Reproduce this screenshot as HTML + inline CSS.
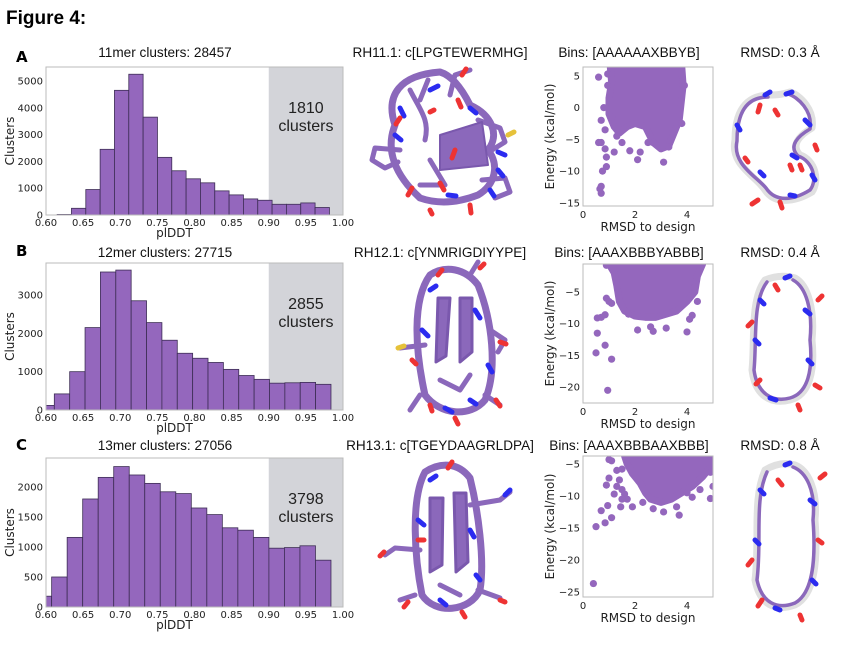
<!DOCTYPE html>
<html><head><meta charset="utf-8"><style>
body{margin:0;background:#fff;}
svg text{font-family:"DejaVu Sans","Liberation Sans",sans-serif;}
.t{font-family:"Liberation Sans",sans-serif;font-size:13.6px;fill:#111;}
.tk{font-size:10px;fill:#222;}
.al{font-size:12px;fill:#222;}
</style></head><body>
<svg id="fig" width="856" height="645" viewBox="0 0 856 645" xmlns="http://www.w3.org/2000/svg">
<text x="6" y="24" style="font-family:'Liberation Sans',sans-serif;font-weight:bold;font-size:19px">Figure 4:</text>
<g style="font-family:'Liberation Sans',sans-serif;font-weight:bold;font-size:15px">
<text x="16" y="62">A</text>
<text x="16" y="256">B</text>
<text x="16" y="450">C</text>
</g>
<g class="t" text-anchor="middle">
<text x="165" y="57" class="t">11mer clusters: 28457</text>
<text x="165" y="257" class="t">12mer clusters: 27715</text>
<text x="165" y="450" class="t">13mer clusters: 27056</text>
<text x="440" y="57" class="t">RH11.1: c[LPGTEWERMHG]</text>
<text x="440" y="257" class="t">RH12.1: c[YNMRIGDIYYPE]</text>
<text x="440" y="450" class="t">RH13.1: c[TGEYDAAGRLDPA]</text>
<text x="629" y="57" class="t">Bins: [AAAAAAXBBYB]</text>
<text x="629" y="257" class="t">Bins: [AAAXBBBYABBB]</text>
<text x="629" y="450" class="t">Bins: [AAAXBBBAAXBBB]</text>
<text x="780" y="57" class="t">RMSD: 0.3 Å</text>
<text x="780" y="257" class="t">RMSD: 0.4 Å</text>
<text x="780" y="450" class="t">RMSD: 0.8 Å</text>
</g>
<g id="mols" fill="none" stroke-linecap="round" stroke-linejoin="round">
<g>
<path d="M440,72 C400,75 385,95 395,125 C385,150 395,175 420,198 C440,205 460,202 478,195 C495,185 500,165 488,150 C500,135 492,115 470,105 C460,85 450,75 440,72" stroke="#8b68bb" stroke-width="7"/>
<path d="M410,90 C420,110 430,120 425,140 M400,150 L375,148 L372,160 L385,168 L398,162 M478,120 L500,128 L505,142 L492,150 M482,180 L505,178 L510,192 L495,198 M450,95 L455,75 L470,70 M420,100 L428,80 M430,160 L445,185 L420,185" stroke="#8b68bb" stroke-width="5"/>
<path d="M440,135 L482,122 L488,165 L440,170 Z" fill="#8b68bb" stroke="#7a58ad" stroke-width="2"/>
<path d="M430,90 L438,86 M470,108 L476,113 M400,108 L404,116 M395,135 L401,140 M448,195 L456,196 M498,152 L505,155 M490,190 L494,196 M498,170 L503,176" stroke="#2b2bf0" stroke-width="5"/>
<path d="M462,75 L466,69 M400,118 L396,124 M458,100 L461,107 M470,205 L471,213 M430,210 L432,214 M412,188 L408,195 M455,150 L452,158 M430,112 L434,110 M440,183 L444,190" stroke="#ee3333" stroke-width="5"/>
<path d="M508,135 L514,132" stroke="#e6c23a" stroke-width="5"/>
</g>
<g>
<path d="M430,275 C412,300 415,350 425,395 C440,415 470,418 485,400 C498,370 492,320 478,285 C465,268 445,265 430,275" stroke="#8b68bb" stroke-width="7"/>
<path d="M438,298 L436,362 L446,356 L450,298 Z M460,298 L460,362 L472,352 L472,298 Z" fill="#8b68bb" stroke="#7a58ad" stroke-width="3"/>
<path d="M425,345 L400,348 M490,330 L505,340 L498,352 M470,275 L478,262 M485,395 L500,405 M420,395 L410,410 M440,380 L460,390 L470,375" stroke="#8b68bb" stroke-width="5"/>
<path d="M430,290 L436,286 M475,310 L480,318 M422,330 L428,336 M488,365 L492,372 M445,408 L452,412 M470,400 L476,404" stroke="#2b2bf0" stroke-width="5"/>
<path d="M438,275 L442,270 M480,268 L484,264 M412,360 L416,364 M455,418 L458,424 M496,400 L500,406 M430,405 L432,411 M500,342 L506,344" stroke="#ee3333" stroke-width="5"/>
<path d="M398,348 L404,346" stroke="#e6c23a" stroke-width="5"/>
</g>
<g>
<path d="M425,472 C410,500 415,560 422,595 C435,615 470,612 480,590 C485,560 478,510 470,478 C458,462 440,462 425,472" stroke="#8b68bb" stroke-width="7"/>
<path d="M430,498 L430,572 L442,565 L443,498 Z M454,493 L456,572 L468,562 L466,493 Z" fill="#8b68bb" stroke="#7a58ad" stroke-width="3"/>
<path d="M420,550 L395,548 L385,555 M470,505 L500,500 L510,492 M478,590 L500,598 M415,595 L400,600 M440,585 L460,595" stroke="#8b68bb" stroke-width="5"/>
<path d="M430,480 L436,476 M470,530 L474,537 M418,520 L424,525 M440,600 L446,605 M476,575 L480,580 M505,495 L510,490" stroke="#2b2bf0" stroke-width="5"/>
<path d="M448,468 L452,462 M384,552 L380,556 M462,612 L465,617 M500,600 L505,602 M408,602 L404,607 M424,540 L418,540" stroke="#ee3333" stroke-width="5"/>
</g>
<g>
<path d="M770,95 C740,95 735,120 735,140 C730,165 755,175 765,190 C775,205 795,202 812,192 C820,180 815,160 800,155 C790,145 800,135 812,128 C815,110 800,95 790,92 C780,95 775,95 770,95" stroke="#e0e0e0" stroke-width="7"/>
<path d="M768,97 C742,97 737,120 737,141 C732,164 756,176 766,188 C776,203 794,200 810,190 C818,180 813,161 798,156 C788,146 798,136 810,129 C813,111 798,97 788,94" stroke="#8b68bb" stroke-width="3.5"/>
<path d="M765,95 L770,92 M737,125 L740,130 M760,172 L764,176 M790,195 L795,196 M812,175 L815,180 M792,155 L797,158 M805,120 L810,125 M786,94 L792,92" stroke="#2b2bf0" stroke-width="5"/>
<path d="M760,105 L758,112 M775,110 L778,115 M745,158 L748,162 M780,202 L782,208 M758,200 L752,204 M790,165 L792,170 M800,165 L802,170 M815,145 L817,150" stroke="#ee3333" stroke-width="5"/>
</g>
<g>
<path d="M765,280 C750,300 755,340 752,370 C755,395 770,405 790,400 C810,395 815,370 812,340 C815,310 808,285 795,278 C785,275 775,276 765,280" stroke="#e0e0e0" stroke-width="7"/>
<path d="M767,282 C752,302 757,340 754,370 C757,393 772,403 790,398 C808,393 813,370 810,340 C813,310 806,287 793,280" stroke="#8b68bb" stroke-width="3.5"/>
<path d="M760,300 L764,304 M755,340 L759,344 M770,398 L776,400 M808,360 L812,364 M805,310 L810,314 M785,278 L790,276" stroke="#2b2bf0" stroke-width="5"/>
<path d="M775,285 L778,290 M752,322 L748,326 M760,380 L756,384 M798,405 L800,410 M815,385 L820,388 M818,300 L822,296" stroke="#ee3333" stroke-width="5"/>
</g>
<g>
<path d="M765,470 C752,500 760,540 755,580 C760,605 775,612 795,605 C815,595 818,560 815,520 C818,490 808,470 795,465 C785,462 775,464 765,470" stroke="#e0e0e0" stroke-width="7"/>
<path d="M767,472 C754,500 762,540 757,580 C762,603 777,610 795,603 C813,593 816,560 813,520 C816,490 806,472 793,467" stroke="#8b68bb" stroke-width="3.5"/>
<path d="M760,490 L764,494 M755,540 L759,544 M775,608 L780,610 M812,580 L816,584 M810,500 L815,504 M785,465 L790,463" stroke="#2b2bf0" stroke-width="5"/>
<path d="M778,480 L782,485 M752,560 L748,565 M762,600 L758,606 M800,615 L802,620 M818,540 L822,543 M820,478 L825,474" stroke="#ee3333" stroke-width="5"/>
</g>
</g>
<g id="plots"></g>
</svg>
<script>
// Histogram data (bin counts, bin start, bin width)
const histA_counts=[20,250,950,2450,4650,5250,3650,2150,1650,1350,1200,900,750,600,550,400,400,450,280];
const histA_start=0.615, histA_width=0.0193;
const histB_counts=[120,420,1000,2150,3600,3650,2850,2280,1820,1480,1350,1240,1060,900,800,700,710,720,670];
const histB_start=0.5905, histB_width=0.0207;
const histC_counts=[180,500,1160,1800,2160,2340,2200,2060,1920,1890,1650,1540,1320,1280,1160,980,990,1020,780];
const histC_start=0.5867, histC_width=0.0209;
const xTickLabels=["0.60","0.65","0.70","0.75","0.80","0.85","0.90","0.95","1.00"];
const yTicksA=[0,1000,2000,3000,4000,5000];
const yTicksB=[0,1000,2000,3000];
const yTicksC=[0,500,1000,1500,2000];
const highCounts=["1810","2855","3798"];
// Scatter data (RMSD, energy) outliers and dense-cloud outlines
const scA_rmsd=[0.6,0.95,0.95,0.8,0.7,0.85,0.7,0.6,0.85,0.9,1.2,0.9,0.75,0.7,0.65,0.7,2.1,1.8,2.2,3.1,2.5,2.7,3.3,1.5,1.1,1.3,3.9,3.8];
const scA_energy=[4.8,5.3,3.5,0,-2,-3.5,-5.5,-5.5,-6.5,-7.8,-7,-9.3,-10,-12.4,-12.8,-13.5,-8.2,-6.8,-7,-8.6,-5.5,-5.5,-6.2,-5.5,-1.5,-4.5,3.5,-2.5];
const cloudA_rmsd=[1.05,3.8,3.85,3.7,3.5,3.3,3.0,2.7,2.4,2.0,1.7,1.4,1.2,1.0,1.0,1.1];
const cloudA_energy=[6.4,6.4,3.5,-2,-4,-6,-6.5,-5.5,-3,-2.5,-3,-4,-3,-1,1.5,4];
const scB_rmsd=[0.5,0.55,0.55,0.7,0.85,0.9,1.0,1.1,0.85,1.1,0.95,2.1,2.6,2.7,3.2,4.0,4.2,4.4,4.3,1.75,0.9,4.1];
const scB_energy=[-14.6,-11.5,-9.1,-9,-8.6,-6,-6.5,-6.8,-13.4,-15.6,-20.5,-11,-10.5,-11.2,-10.7,-11.3,-8.7,-6.5,-4.2,-8.5,-0.8,-9.3];
const cloudB_rmsd=[1.0,4.6,4.4,4.3,4.0,3.6,3.2,2.8,2.4,2.0,1.6,1.4,1.3,1.2];
const cloudB_energy=[-0.6,-0.6,-2.5,-5,-6.5,-8,-8.5,-9,-9,-8.8,-8,-6.5,-4,-2];
const scC_rmsd=[0.4,0.5,0.7,0.85,1.1,0.95,1.2,0.9,1.0,1.0,1.1,1.3,1.5,1.4,1.5,1.6,1.7,1.45,1.9,2.3,2.7,3.1,3.7,3.6,4.2,4.9,4.9,5.0,4.5,4.0,1.3,1.5];
const scC_energy=[-23.7,-14.8,-12.3,-14.2,-13.4,-11.5,-9.7,-8.3,-7.2,-4.3,-4.5,-6,-5.8,-7.5,-9,-9.7,-10.5,-11.7,-11.7,-11,-12,-12.5,-13,-11.7,-10.2,-10.4,-6.3,-8.5,-9,-9.5,-8.5,-10.5];
const cloudC_rmsd=[1.6,5,5,4.6,4.2,3.8,3.4,3.0,2.6,2.4,2.2,1.9,1.7];
const cloudC_energy=[-3.75,-3.75,-5,-7,-8.5,-9.5,-10.5,-11,-10.5,-9.5,-8,-6.5,-5];
const sTicksA=[5,0,-5,-10,-15], sTicksB=[-5,-10,-15,-20], sTicksC=[-5,-10,-15,-20,-25];
const sxTicks=[0,2,4];

const NS="http://www.w3.org/2000/svg";
const root=document.getElementById('plots');
function mk(tag,attrs,parent){const e=document.createElementNS(NS,tag);for(const k in attrs)e.setAttribute(k,attrs[k]);(parent||root).appendChild(e);return e;}

function hist(key,counts,start,width,yTicks,ymax,top,bottom,hiTxt){
  const L=46,R=343;
  const xs=v=>L+(v-0.6)/0.4*(R-L);
  const ys=v=>bottom-v/ymax*(bottom-top);
  const g=mk('g',{});
  
  
  const clip=mk('clipPath',{id:'clip'+key},g);
  mk('rect',{x:L,y:top,width:R-L,height:bottom-top},clip);
  const shade=mk('rect',{x:xs(0.9),y:top,width:R-xs(0.9),height:bottom-top,fill:'#d3d4d9'},g);
  
  
  const bg=mk('g',{'clip-path':'url(#clip'+key+')'},g);
  counts.forEach((c,i)=>{
    const x0=xs(start+i*width),x1=xs(start+(i+1)*width);
    const b=mk('rect',{x:x0,y:ys(c),width:x1-x0,height:bottom-ys(c),fill:'#9467bd',stroke:'#3d2d55','stroke-width':0.8},bg);
    
    
  });
  mk('rect',{x:L,y:top,width:R-L,height:bottom-top,fill:'none',stroke:'#bbb','stroke-width':1},g);
  xTickLabels.forEach((t,i)=>{
    const tx=mk('text',{x:xs(0.6+i*0.05),y:bottom+11,class:'tk','text-anchor':'middle'},g);tx.textContent=t;
    
    
  });
  yTicks.forEach(t=>{
    const tx=mk('text',{x:L-3,y:ys(t)+3.5,class:'tk','text-anchor':'end'},g);tx.textContent=t;
    
    
  });
  const xl=mk('text',{x:(L+R)/2-20,y:bottom+22,class:'al','text-anchor':'middle'},g);xl.textContent='plDDT';
  
  
  const cy=(top+bottom)/2;
  const yl=mk('text',{x:14,y:cy,class:'al','text-anchor':'middle',transform:'rotate(-90 14 '+cy+')'},g);yl.textContent='Clusters';
  
  
  const tc=(xs(0.9)+R)/2;
  const a=mk('text',{x:tc,y:top+46,'text-anchor':'middle',style:"font-family:'Liberation Sans',sans-serif;font-size:16px;fill:#222"},g);a.textContent=hiTxt;
  
  
  const b=mk('text',{x:tc,y:top+64,'text-anchor':'middle',style:"font-family:'Liberation Sans',sans-serif;font-size:16px;fill:#222"},g);b.textContent='clusters';
  
  
}
hist('a',histA_counts,histA_start,histA_width,yTicksA,5520,67,215,highCounts[0]);
hist('b',histB_counts,histB_start,histB_width,yTicksB,3835,263,410,highCounts[1]);
hist('c',histC_counts,histC_start,histC_width,yTicksC,2483,458,607,highCounts[2]);

function scatter(key,rm,en,crm,cen,ticks,ymin,ymax,top,bottom){
  const L=583,R=713;
  const xs=v=>L+v/5*(R-L);
  const ys=v=>top+(ymax-v)/(ymax-ymin)*(bottom-top);
  const g=mk('g',{});
  
  
  const clip=mk('clipPath',{id:'sclip'+key},g);
  mk('rect',{x:L,y:top,width:R-L,height:bottom-top},clip);
  const pg=mk('g',{'clip-path':'url(#sclip'+key+')'},g);
  const pts=crm.map((r,i)=>xs(r)+','+ys(cen[i])).join(' ');
  const cl=mk('polygon',{points:pts,fill:'#9467bd',stroke:'#9467bd','stroke-width':7,'stroke-linejoin':'round'},pg);
  
  
  rm.forEach((r,i)=>{
    const c=mk('circle',{cx:xs(r),cy:ys(en[i]),r:3.6,fill:'#9467bd'},pg);
    
    
  });
  mk('rect',{x:L,y:top,width:R-L,height:bottom-top,fill:'none',stroke:'#bbb','stroke-width':1},g);
  sxTicks.forEach(t=>{
    const tx=mk('text',{x:xs(t),y:bottom+12,class:'tk','text-anchor':'middle'},g);tx.textContent=t;
    
    
  });
  ticks.forEach(t=>{
    const tx=mk('text',{x:L-3,y:ys(t)+3.5,class:'tk','text-anchor':'end'},g);tx.textContent=(t<0?'\u2212'+(-t):t);
    
    
  });
  const xl=mk('text',{x:(L+R)/2,y:bottom+25,class:'al','text-anchor':'middle'},g);xl.textContent='RMSD to design';
  
  
  const cy=(top+bottom)/2;
  const yl=mk('text',{x:554,y:cy,class:'al','text-anchor':'middle',transform:'rotate(-90 554 '+cy+')'},g);yl.textContent='Energy (kcal/mol)';
  
  
}
scatter('a',scA_rmsd,scA_energy,cloudA_rmsd,cloudA_energy,sTicksA,-15.5,6.4,67,206);
scatter('b',scB_rmsd,scB_energy,cloudB_rmsd,cloudB_energy,sTicksB,-22.5,-0.6,264,403);
scatter('c',scC_rmsd,scC_energy,cloudC_rmsd,cloudC_energy,sTicksC,-25.8,-3.75,456,597);
</script>
</body></html>
